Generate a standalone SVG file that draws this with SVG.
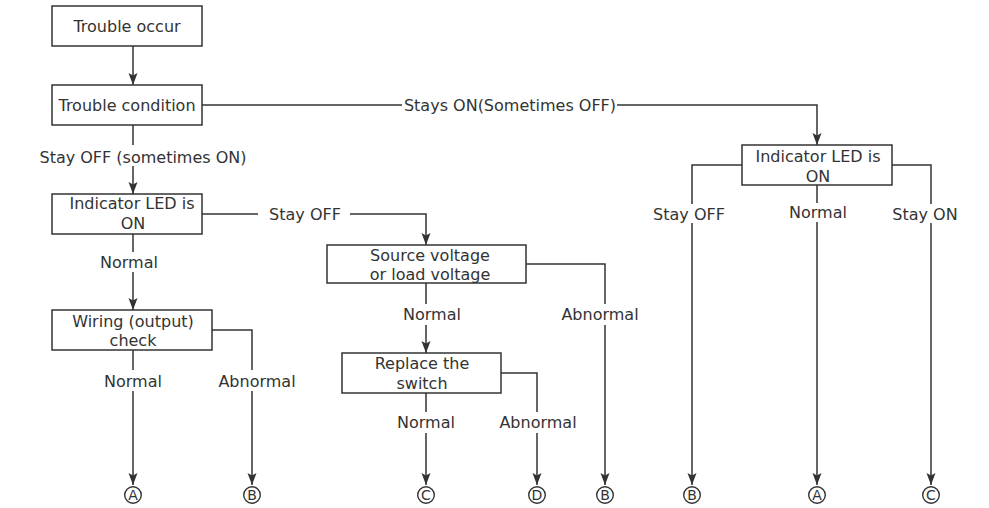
<svg xmlns="http://www.w3.org/2000/svg" width="989" height="508" viewBox="0 0 989 508">
<style>
  .box rect { fill: #fff; stroke: #333; stroke-width: 1.5; }
  text { font-family: "DejaVu Sans", Verdana, sans-serif; font-size: 16px; fill: #333; text-anchor: middle; }
  .conn path { fill: none; stroke: #333; stroke-width: 1.5; }
  .term circle { fill: #fff; stroke: #333; stroke-width: 1.4; }
  .term text { font-size: 14px; }
</style>
<defs>
  <marker id="arr" markerUnits="userSpaceOnUse" markerWidth="12" markerHeight="10" refX="12" refY="5" orient="auto">
    <path d="M0,0.5 L12,5 L0,9.5 L2.5,5 z" fill="#333"/>
  </marker>
</defs>
<rect width="989" height="508" fill="#fff"/>

<g class="conn">
  <path d="M133,46 V85" marker-end="url(#arr)"/>
  <path d="M202,105 H402 M617,105 H817 V145" marker-end="url(#arr)"/>
  <path d="M133,125 V145 M133,166 V194" marker-end="url(#arr)"/>
  <path d="M202,214 H258 M350,214 H426 V245" marker-end="url(#arr)"/>
  <path d="M133,234 V252 M133,272 V310" marker-end="url(#arr)"/>
  <path d="M133,350 V370 M133,391 V485" marker-end="url(#arr)"/>
  <path d="M212,330 H252 V370 M252,391 V485" marker-end="url(#arr)"/>
  <path d="M426,283 V304 M426,325 V353" marker-end="url(#arr)"/>
  <path d="M526,264 H605 V304 M605,325 V485" marker-end="url(#arr)"/>
  <path d="M426,393 V412 M426,433 V485" marker-end="url(#arr)"/>
  <path d="M501,373 H537 V412 M537,433 V485" marker-end="url(#arr)"/>
  <path d="M742,165 H692 V204 M692,223 V485" marker-end="url(#arr)"/>
  <path d="M817,185 V203 M817,222 V485" marker-end="url(#arr)"/>
  <path d="M892,165 H931 V204 M931,223 V485" marker-end="url(#arr)"/>
</g>

<g id="labels">
  <text x="510" y="111">Stays ON(Sometimes OFF)</text>
  <text x="143" y="163">Stay OFF (sometimes ON)</text>
  <text x="305" y="220">Stay OFF</text>
  <text x="129" y="268">Normal</text>
  <text x="133" y="387">Normal</text>
  <text x="257" y="387">Abnormal</text>
  <text x="432" y="320">Normal</text>
  <text x="600" y="320">Abnormal</text>
  <text x="426" y="428">Normal</text>
  <text x="538" y="428">Abnormal</text>
  <text x="689" y="220">Stay OFF</text>
  <text x="818" y="218">Normal</text>
  <text x="925" y="220">Stay ON</text>
</g>

<g id="n-trouble-occur" class="box">
  <rect x="52" y="6" width="150" height="40"/>
  <text x="127" y="32">Trouble occur</text>
</g>
<g id="n-trouble-condition" class="box">
  <rect x="52" y="85" width="150" height="40"/>
  <text x="127" y="111">Trouble condition</text>
</g>
<g id="n-indicator-left" class="box">
  <rect x="52" y="194" width="150" height="40"/>
  <text x="132" y="209">Indicator LED is</text>
  <text x="133" y="229">ON</text>
</g>
<g id="n-wiring" class="box">
  <rect x="52" y="310" width="160" height="40"/>
  <text x="133" y="327">Wiring (output)</text>
  <text x="133" y="346">check</text>
</g>
<g id="n-source" class="box">
  <rect x="327" y="245" width="199" height="38"/>
  <text x="430" y="261">Source voltage</text>
  <text x="430" y="280">or load voltage</text>
</g>
<g id="n-replace" class="box">
  <rect x="342" y="353" width="159" height="40"/>
  <text x="422" y="369">Replace the</text>
  <text x="422" y="389">switch</text>
</g>
<g id="n-indicator-right" class="box">
  <rect x="742" y="145" width="150" height="40"/>
  <text x="818" y="162">Indicator LED is</text>
  <text x="818" y="182">ON</text>
</g>

<g id="t-A1" class="term"><circle cx="133" cy="495" r="8.3"/><text x="133" y="500">A</text></g>
<g id="t-B1" class="term"><circle cx="252" cy="495" r="8.3"/><text x="252" y="500">B</text></g>
<g id="t-C1" class="term"><circle cx="426" cy="495" r="8.3"/><text x="426" y="500">C</text></g>
<g id="t-D1" class="term"><circle cx="537" cy="495" r="8.3"/><text x="537" y="500">D</text></g>
<g id="t-B2" class="term"><circle cx="605" cy="495" r="8.3"/><text x="605" y="500">B</text></g>
<g id="t-B3" class="term"><circle cx="692" cy="495" r="8.3"/><text x="692" y="500">B</text></g>
<g id="t-A2" class="term"><circle cx="817" cy="495" r="8.3"/><text x="817" y="500">A</text></g>
<g id="t-C2" class="term"><circle cx="931" cy="495" r="8.3"/><text x="931" y="500">C</text></g>
</svg>
